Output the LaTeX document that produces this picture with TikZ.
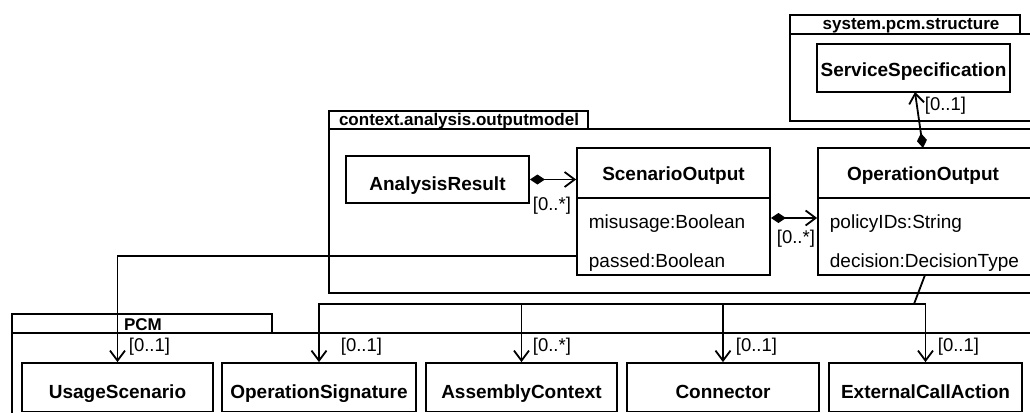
\documentclass[tikz,border=0pt]{standalone}
\usepackage{fontspec}
\setmainfont{Liberation Sans}
\usetikzlibrary{arrows.meta}
\begin{document}
\begin{tikzpicture}[x=1pt,y=-1pt, line width=1.8pt,
  box/.style={draw, rectangle, inner sep=0pt, fill=white},
  cname/.style={font=\fontsize{19}{19}\selectfont\bfseries, anchor=base, inner sep=0pt},
  attr/.style={font=\fontsize{19}{19}\selectfont, anchor=base west, inner sep=0pt},
  mult/.style={font=\fontsize{18.5}{18.5}\selectfont, anchor=base west, inner sep=0pt},
  pkgname/.style={font=\fontsize{17}{17}\selectfont\bfseries, anchor=base, inner sep=0pt},
  assoc/.style={-{Straight Barb[length=10pt,width=15pt]}},
  comp/.style={{Diamond[length=15pt,width=10pt]}-{Straight Barb[length=10pt,width=15pt]}}]
\clip (0,0) rectangle (1030,412);
% packages
\node[box, minimum width=230pt, minimum height=19pt] (sysTab) at (905,24.5) {};
\node[box, minimum width=250pt, minimum height=87pt] (sysBody) at (915,77.5) {};
\node[pkgname] (sysName) at (911,30) {system.pcm.structure};
\node[box, minimum width=259pt, minimum height=18pt] (outTab) at (458.5,120) {};
\node[box, minimum width=711pt, minimum height=164pt] (outBody) at (684.5,211) {};
\node[pkgname] (outName) at (459,125) {context.analysis.outputmodel};
\node[box, minimum width=260pt, minimum height=19pt] (pcmTab) at (142,323.5) {};
\node[box, minimum width=1030pt, minimum height=100pt] (pcmBody) at (527,383) {};
\node[pkgname] (pcmName) at (143,330) {PCM};
% classes
\node[box, minimum width=193pt, minimum height=48pt] (SS) at (913.5,68) {};
\node[cname] (SSt) at (913.5,77) {ServiceSpecification};
\node[box, minimum width=183pt, minimum height=47pt] (AR) at (437.5,179.5) {};
\node[cname] (ARt) at (437.5,190) {AnalysisResult};
\node[box, minimum width=193pt, minimum height=127pt] (SO) at (673.5,211.5) {};
\draw (SO.west |- 0,198) -- (SO.east |- 0,198);
\node[cname] (SOt) at (673.5,180) {ScenarioOutput};
\node[attr] (SOa) at (588,228) {misusage:Boolean};
\node[attr] (SOb) at (588,267) {passed:Boolean};
\node[box, minimum width=214pt, minimum height=127pt] (OO) at (925,211.5) {};
\draw (OO.west |- 0,198) -- (OO.east |- 0,198);
\node[cname] (OOt) at (923,180) {OperationOutput};
\node[attr] (OOa) at (829,228) {policyIDs:String};
\node[attr] (OOb) at (829,267) {decision:DecisionType};
% PCM classes
\node[box, minimum width=191pt, minimum height=48.5pt] (US) at (117.5,387.25) {};
\node[cname] (USt) at (117.5,398) {UsageScenario};
\node[box, minimum width=194pt, minimum height=48.5pt] (OS) at (319,387.25) {};
\node[cname] (OSt) at (319,398) {OperationSignature};
\node[box, minimum width=191pt, minimum height=48.5pt] (AC) at (521.5,387.25) {};
\node[cname] (ACt) at (521.5,398) {AssemblyContext};
\node[box, minimum width=192pt, minimum height=48.5pt] (CO) at (723,387.25) {};
\node[cname] (COt) at (723,398) {Connector};
\node[box, minimum width=193pt, minimum height=48.5pt] (EC) at (925.5,387.25) {};
\node[cname] (ECt) at (925.5,398) {ExternalCallAction};
% connectors
\coordinate (ooTop) at (923,148);
\coordinate (ssBot) at (915,92);
\draw[comp] (ooTop) -- (ssBot);
\node[mult] (m1) at (924,110.5) {[0..1]};
\draw[comp] (AR.east) -- (AR.east -| SO.west);
\node[mult] (m2) at (532,210) {[0..*]};
\draw[comp] (SO.east |- 0,218) -- (OO.west |- 0,218);
\node[mult] (m3) at (776,243.5) {[0..*]};
\draw[assoc] (SO.west |- 0,256) -| (US.north);
\node[mult] (m4) at (128,351) {[0..1]};
\coordinate (ooBot) at (925,275);
\coordinate (busJ) at (914,304);
\coordinate (busL) at (OS.north |- busJ);
\coordinate (busR) at (EC.north |- busJ);
\draw (ooBot) -- (busJ);
\draw[assoc] (busJ) -- (busL) -- (OS.north);
\draw[assoc] (busJ) -- (busR) -- (EC.north);
\draw[assoc] (AC.north |- busJ) -- (AC.north);
\draw[assoc] (CO.north |- busJ) -- (CO.north);
\node[mult] (m5) at (340,351) {[0..1]};
\node[mult] (m6) at (532,351) {[0..*]};
\node[mult] (m7) at (735,351) {[0..1]};
\node[mult] (m8) at (937,351) {[0..1]};
\end{tikzpicture}
\end{document}
